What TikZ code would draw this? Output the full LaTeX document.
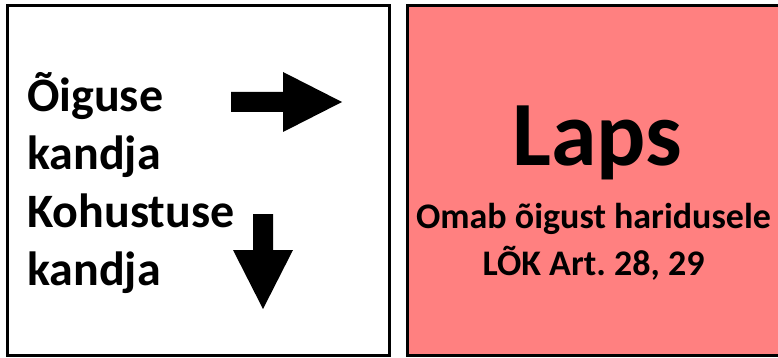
\documentclass[tikz,border=0pt]{standalone}
\usepackage{fontspec}
\setmainfont{Carlito}
\frenchspacing
\definecolor{boxpink}{RGB}{255,128,128}
\begin{document}
\begin{tikzpicture}[x=1pt,y=-1pt,
  panel/.style={draw=black,line width=3pt},
  blockarrow/.style={fill=black,draw=none},
  lefttext/.style={inner sep=0pt,align=left,font=\fontsize{48}{57.7}\selectfont\bfseries},
  bigtext/.style={inner sep=0pt,font=\fontsize{92}{100}\selectfont\bfseries},
  subtext/.style={inner sep=0pt,align=center,font=\fontsize{36}{47}\selectfont\bfseries\frenchspacing}]
\useasboundingbox (0,0) rectangle (778,358);
\clip (0,0) rectangle (778,358);
% panels
\draw[panel,fill=white] (7.5,6) rectangle (389.5,355.5);
\draw[panel,fill=boxpink] (407,6) rectangle (790,355.5);
% left text (base anchor = baseline of last line)
\node[lefttext,anchor=base west] (rights) at (27,285) {Õiguse\\kandja\\Kohustuse\\kandja};
% block arrows
\fill[blockarrow] (231,92) -- (283,92) -- (283,72) -- (342,102) -- (283,132) -- (283,112) -- (231,112) -- cycle;
\fill[blockarrow] (253,214) -- (273,214) -- (273,250) -- (293,250) -- (263,309) -- (233,250) -- (253,250) -- cycle;
% right text
\node[bigtext,anchor=base] (laps) at (597.5,165) {Laps};
\node[subtext,anchor=base] (sub) at (593.5,275) {Omab õigust haridusele\\LÕK Art. 28, 29};
\end{tikzpicture}
\end{document}
